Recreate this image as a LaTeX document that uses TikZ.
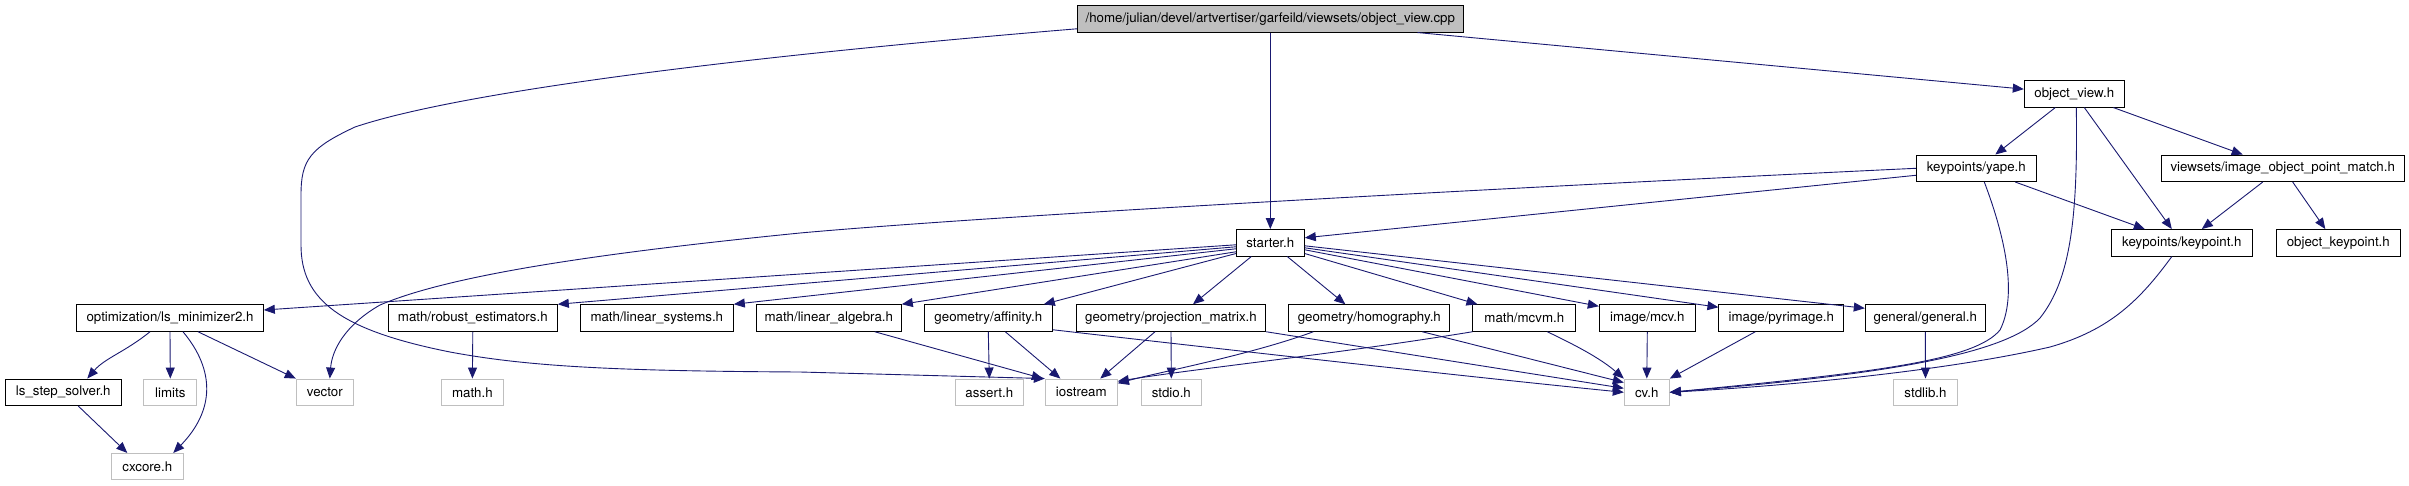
\documentclass[tikz,border=0pt]{standalone}
\usepackage{fontspec}
\setmainfont{TeX Gyre Heros}
\usetikzlibrary{arrows.meta}
\definecolor{navy}{HTML}{191970}
\definecolor{gray75}{HTML}{BFBFBF}
\tikzset{
  doc/.style={draw=black, fill=white, line width=1pt, minimum height=26.5pt, inner sep=0pt, font=\fontsize{13.3}{15}\selectfont},
  ext/.style={doc, draw=gray75},
  top/.style={doc, fill=gray75},
  dep/.style={draw=navy, line width=0.9pt, -{Triangle[length=11pt,width=9pt]}, fill=none},
}
\begin{document}
\begin{tikzpicture}[x=1pt,y=-1pt]
\useasboundingbox (0,0) rectangle (2409,485);
% row 0
\node[top, minimum width=386pt] (cpp) at (1270.3,18.8) {/home/julian/devel/artvertiser/garfeild/viewsets/object\_view.cpp};
% row 1
\node[doc, minimum width=100pt] (ovh) at (2074.3,93.8) {object\_view.h};
% row 2
\node[doc, minimum width=120pt] (yape) at (1976.3,168.3) {keypoints/yape.h};
\node[doc, minimum width=243.3pt] (iopm) at (2282.7,168.3) {viewsets/image\_object\_point\_match.h};
% row 3
\node[doc, minimum width=68pt] (starter) at (1270.3,242.8) {starter.h};
\node[doc, minimum width=141pt] (keypoint) at (2181.8,242.8) {keypoints/keypoint.h};
\node[doc, minimum width=124pt] (objkp) at (2338.3,242.8) {object\_keypoint.h};
% row 4
\node[doc, minimum width=186.6pt] (opt) at (170,318) {optimization/ls\_minimizer2.h};
\node[doc, minimum width=169pt] (robust) at (472.8,318) {math/robust\_estimators.h};
\node[doc, minimum width=153pt] (linsys) at (656.8,318) {math/linear\_systems.h};
\node[doc, minimum width=145pt] (linalg) at (828.8,318) {math/linear\_algebra.h};
\node[doc, minimum width=128pt] (affinity) at (988.3,318) {geometry/affinity.h};
\node[doc, minimum width=189.4pt] (projm) at (1171,318) {geometry/projection\_matrix.h};
\node[doc, minimum width=160.7pt] (homog) at (1369.3,318) {geometry/homography.h};
\node[doc, minimum width=102.7pt] (mcvm) at (1524.3,318) {math/mcvm.h};
\node[doc, minimum width=96pt] (mcv) at (1647.3,318) {image/mcv.h};
\node[doc, minimum width=124.7pt] (pyr) at (1781.3,318) {image/pyrimage.h};
\node[doc, minimum width=120pt] (general) at (1925.3,318) {general/general.h};
% row 5
\node[doc, minimum width=116pt] (lss) at (63.3,392.3) {ls\_step\_solver.h};
\node[ext, minimum width=52.7pt] (limits) at (170.3,392.3) {limits};
\node[ext, minimum width=57pt] (vector) at (324.8,392.3) {vector};
\node[ext, minimum width=62pt] (mathh) at (472.4,392.3) {math.h};
\node[ext, minimum width=68pt] (assert) at (989.3,392.3) {assert.h};
\node[ext, minimum width=72pt] (iostream) at (1081.3,392.3) {iostream};
\node[ext, minimum width=60pt] (stdio) at (1171.3,392.3) {stdio.h};
\node[ext, minimum width=45pt] (cv) at (1646.8,392.3) {cv.h};
\node[ext, minimum width=63.6pt] (stdlib) at (1925.5,392.3) {stdlib.h};
% row 6
\node[ext, minimum width=72pt] (cxcore) at (147.3,466.7) {cxcore.h};

% edges from cpp
\draw[dep] (cpp.south) -- (starter.north);
\draw[dep] (cpp) -- (ovh);
\draw[dep] ([yshift=-10pt]cpp.west) .. controls (700,60) and (450,95) .. (355,127)
  .. controls (310,148) and (301,160) .. (301,195) -- (301,245)
  .. controls (301,300) and (340,330) .. (450,352)
  .. controls (530,367) and (620,371) .. (800,372) -- (iostream.north west);
% object_view.h
\draw[dep] ([xshift=-19pt]ovh.south) -- ([xshift=19pt]yape.north);
\draw[dep] ([xshift=10pt]ovh.south) -- ([xshift=-10pt]keypoint.north);
\draw[dep] ([xshift=39pt]ovh.south) -- ([xshift=-40pt]iopm.north);
\draw[dep] ([xshift=2pt]ovh.south) .. controls (2078,220) and (2070,280) .. (2040,318)
  .. controls (2005,355) and (1880,375) .. (cv.east);
% yape
\draw[dep] (yape.west) .. controls (1500,188) and (1000,215) .. (800,233)
  .. controls (600,253) and (450,275) .. (380,305)
  .. controls (345,325) and (332,350) .. ([xshift=5pt]vector.north);
\draw[dep] ([yshift=-7pt]yape.west) -- ([yshift=5pt]starter.east);
\draw[dep] ([xshift=39pt]yape.south) -- ([xshift=-37pt]keypoint.north);
\draw[dep] ([xshift=8pt]yape.south) .. controls (2010,250) and (2015,300) .. (2000,330)
  .. controls (1975,360) and (1880,372) .. (cv.east);
% image_object_point_match
\draw[dep] ([xshift=-20pt]iopm.south) -- ([xshift=20pt]keypoint.north);
\draw[dep] ([xshift=10pt]iopm.south) -- ([xshift=-13pt]objkp.north);
% keypoint
\draw[dep] ([xshift=-10pt]keypoint.south) .. controls (2140,300) and (2110,330) .. (2050,347)
  .. controls (1950,370) and (1800,385) .. (cv.east);
% starter
\draw[dep] ([yshift=-2pt]starter.west) -- ([yshift=8pt]opt.east);
\draw[dep] ([yshift=-4pt]starter.west) -- (robust.north east);
\draw[dep] ([yshift=-6pt]starter.west) -- (linsys.north east);
\draw[dep] ([yshift=-9pt]starter.west) -- (linalg.north east);
\draw[dep] ([yshift=3pt]starter.south west) -- ([xshift=-9pt]affinity.north east);
\draw[dep] ([xshift=-19pt]starter.south) -- ([xshift=22pt]projm.north);
\draw[dep] ([xshift=17pt]starter.south) -- ([xshift=-24pt]homog.north);
\draw[dep] ([yshift=3pt]starter.south east) -- ([xshift=5pt]mcvm.north west);
\draw[dep] ([yshift=-7pt]starter.east) -- ([yshift=-2pt]mcv.north west);
\draw[dep] ([yshift=-5pt]starter.east) -- ([yshift=-3pt]pyr.north west);
\draw[dep] ([yshift=-3pt]starter.east) -- ([yshift=-4pt]general.north west);
% optimization
\draw[dep] ([xshift=-20pt]opt.south) .. controls (125,352) and (105,358) .. ([xshift=24pt]lss.north);
\draw[dep] (opt.south) -- (limits.north);
\draw[dep] ([xshift=13pt]opt.south) .. controls (215,370) and (215,410) .. ([xshift=26pt]cxcore.north);
\draw[dep] ([xshift=28pt]opt.south) -- (vector.north west);
\draw[dep] ([xshift=15pt]lss.south) -- ([xshift=-20pt]cxcore.north);
% math
\draw[dep] (robust.south) -- (mathh.north);
\draw[dep] ([xshift=46pt]linalg.south) -- ([xshift=-2pt]iostream.north west);
% geometry
\draw[dep] (affinity.south) -- (assert.north);
\draw[dep] ([xshift=17pt]affinity.south) -- ([xshift=-21pt]iostream.north);
\draw[dep] ([yshift=2pt]affinity.south east) .. controls (1300,358) and (1500,380) .. (cv.west);
\draw[dep] ([xshift=-16pt]projm.south) -- ([xshift=19pt]iostream.north);
\draw[dep] (projm.south) -- (stdio.north);
\draw[dep] (projm.south east) -- ([yshift=4pt]cv.west);
\draw[dep] ([xshift=-56pt]homog.south) .. controls (1250,355) and (1160,372) .. ([yshift=9pt]iostream.east);
\draw[dep] ([xshift=53pt]homog.south) -- ([yshift=-4pt]cv.north west);
\draw[dep] (mcvm.south west) .. controls (1330,355) and (1200,368) .. ([yshift=11pt]iostream.east);
\draw[dep] ([xshift=23pt]mcvm.south) .. controls (1575,345) and (1600,358) .. (cv.north west);
% image
\draw[dep] (mcv.south) -- (cv.north);
\draw[dep] ([xshift=-26pt]pyr.south) -- (cv.north east);
\draw[dep] (general.south) -- (stdlib.north);
\end{tikzpicture}
\end{document}
